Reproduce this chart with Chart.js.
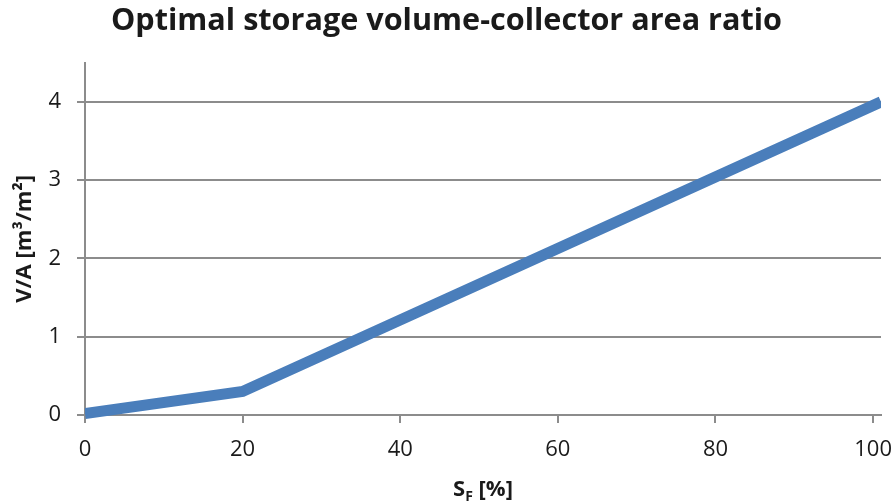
<!DOCTYPE html>
<html>
<head>
<meta charset="utf-8">
<script src="https://cdn.jsdelivr.net/npm/chart.js@4/dist/chart.umd.min.js"></script>
<style>
  html, body { margin: 0; padding: 0; background: #fff; }
  #wrap { width: 895px; height: 503px; }
</style>
</head>
<body>
<div id="wrap"><canvas id="myChart" width="895" height="503"></canvas></div>
<script>
// values
const sfPercent = [0, 20, 101];
const vaRatio = [0.02, 0.3, 4.0];
const xTicks = [0, 20, 40, 60, 80, 100];
const yTicks = [0, 1, 2, 3, 4];

const chartTitle = 'Optimal storage volume-collector area ratio';
const yTitle = 'V/A [m\u00b3/m\u00b2]';

var gridGrey = '#8c8c8c';
var textCol = '#1a1a1a';
var fontName = 'Open Sans';

// draws "S_F [%]" with a real subscript under the x axis
var xTitlePlugin = {
  id: 'xTitle',
  afterDraw: function(chart) {
    var ctx = chart.ctx;
    var area = chart.chartArea;
    var cx = (area.left + area.right) / 2;
    var y = 496;
    ctx.save();
    ctx.fillStyle = textCol;
    ctx.textBaseline = 'alphabetic';
    ctx.font = 'bold 22px ' + fontName;
    var wS = ctx.measureText('S').width;
    var wRest = ctx.measureText(' [%]').width;
    ctx.font = 'bold 14px ' + fontName;
    var wF = ctx.measureText('F').width;
    var x = cx - (wS + wF + wRest) / 2;
    ctx.font = 'bold 22px ' + fontName;
    ctx.fillText('S', x, y);
    ctx.font = 'bold 14px ' + fontName;
    ctx.fillText('F', x + wS, y + 5);
    ctx.font = 'bold 22px ' + fontName;
    ctx.fillText(' [%]', x + wS + wF, y);
    ctx.restore();
  }
};

var points = sfPercent.map(function(v, i) {
  return { x: v, y: vaRatio[i] };
});

new Chart(document.getElementById('myChart').getContext('2d'), {
  type: 'scatter',
  data: {
    datasets: [
      {
        label: 'V/A',
        data: points,
        showLine: true,
        borderColor: '#4a7ebb',
        backgroundColor: '#4a7ebb',
        borderWidth: 11,
        pointRadius: 0,
        tension: 0,
        clip: { left: 0, right: 0, top: 10, bottom: 10 }
      }
    ]
  },
  plugins: [xTitlePlugin],
  options: {
    responsive: false,
    animation: false,
    layout: { padding: { left: 12, right: 14, top: 0, bottom: 0 } },
    plugins: {
      legend: { display: false },
      tooltip: { enabled: false },
      title: {
        display: true,
        text: chartTitle,
        color: textCol,
        font: { family: fontName, size: 30.6, weight: 'bold' },
        padding: { top: 3, bottom: 23 }
      }
    },
    scales: {
      x: {
        type: 'linear',
        min: 0,
        max: 101,
        afterBuildTicks: function(axis) {
          axis.ticks = xTicks.map(function(v) { return { value: v }; });
        },
        afterFit: function(axis) {
          axis.height = 88;
          axis.paddingLeft = 0;
          axis.paddingRight = 0;
        },
        border: { color: gridGrey, width: 2 },
        grid: { drawOnChartArea: false, color: gridGrey, lineWidth: 2, tickLength: 8 },
        ticks: { color: textCol, font: { family: fontName, size: 22 }, padding: 14, maxRotation: 0 }
      },
      y: {
        min: 0,
        max: 4.5,
        afterBuildTicks: function(axis) {
          axis.ticks = yTicks.map(function(v) { return { value: v }; });
        },
        afterFit: function(axis) {
          axis.width = 73;
          axis.paddingTop = 0;
          axis.paddingBottom = 0;
        },
        border: { color: gridGrey, width: 2 },
        grid: { color: gridGrey, lineWidth: 2, tickLength: 8 },
        ticks: { color: textCol, font: { family: fontName, size: 22 }, padding: 16 },
        title: {
          display: true,
          text: yTitle,
          color: textCol,
          font: { family: fontName, size: 22, weight: 'bold' },
          padding: { top: 0, bottom: 10 }
        }
      }
    }
  }
});
</script>
</body>
</html>
